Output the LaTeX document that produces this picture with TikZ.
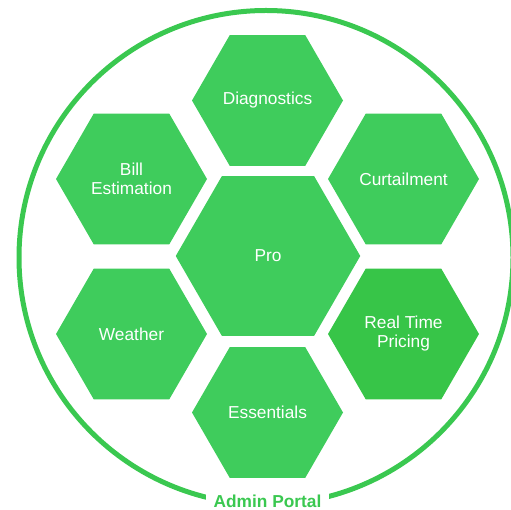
\documentclass[tikz,border=0pt]{standalone}
\usepackage{fontspec}
\setmainfont{Liberation Sans}
\usetikzlibrary{shapes.geometric}
\definecolor{hexgreen}{RGB}{63,204,92}
\definecolor{darkgreen}{RGB}{55,197,72}
\definecolor{ringgreen}{RGB}{58,200,80}
\tikzset{
  hex/.style={regular polygon, regular polygon sides=6, inner sep=0pt,
    minimum size=151pt, fill=hexgreen, text=white, align=center,
    font=\fontsize{17.3}{19}\selectfont},
  bighex/.style={hex, minimum size=184.5pt},
  portal/.style={text=ringgreen, fill=white, inner xsep=8pt, inner ysep=2pt,
    font=\fontsize{17.3}{19}\selectfont\bfseries}
}
\begin{document}
\begin{tikzpicture}[x=1pt,y=-1pt]
                \useasboundingbox (0,0) rectangle (511,510);
                \draw[ringgreen, line width=5pt] (266,257.5) circle (247pt);

                \node[bighex] (pro) at (268,256) {Pro};
                \node[hex] (diag) at (267.5,100.5) {Diagnostics};
                \node[hex] (bill) at (131.5,179) {Bill\\Estimation};
                \node[hex] (curt) at (403.5,179) {Curtailment};
                \node[hex] (weather) at (131.5,334) {Weather};
                \node[hex, fill=darkgreen] (rtp) at (403.5,334) {Real Time\\Pricing};
                \node[hex] (ess) at (267.5,412.5) {Essentials};

                \node[portal] (admin) at (267.5,501) {Admin Portal};
\end{tikzpicture}
\end{document}
